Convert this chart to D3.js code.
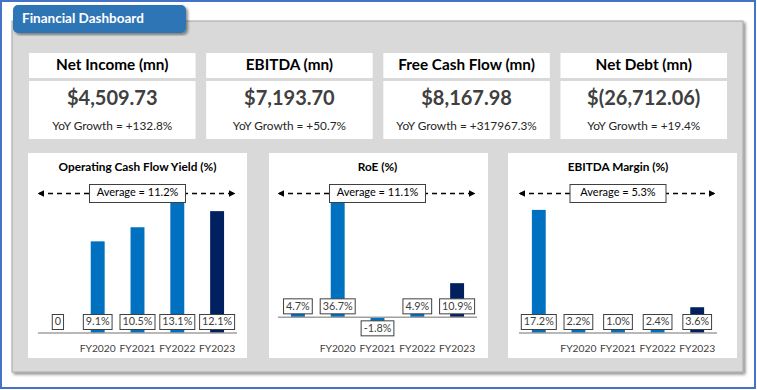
<!DOCTYPE html>
<html lang="en">
<head>
  <meta charset="UTF-8" />
  <title>Financial Dashboard</title>
  <script src="https://d3js.org/d3.v7.min.js"></script>
  <style>
    body { margin: 0; background: #fff; font-family: Lato, 'Open Sans', sans-serif; }
    svg { display: block; }
  </style>
</head>
<body>
  <script>
    // KPI cards
    const kpiTitles = ['Net Income (mn)', 'EBITDA (mn)', 'Free Cash Flow (mn)', 'Net Debt (mn)'];
    const kpiValues = ['$4,509.73', '$7,193.70', '$8,167.98', '$(26,712.06)'];
    const kpiGrowth = ['+132.8%', '+50.7%', '+317967.3%', '+19.4%'];

    // Bar charts
    const categories = ['', 'FY2020', 'FY2021', 'FY2022', 'FY2023'];
    const ocfYield = [0, 9.1, 10.5, 13.1, 12.1];
    const roe = [4.7, 36.7, -1.8, 4.9, 10.9];
    const ebitdaMargin = [17.2, 2.2, 1.0, 2.4, 3.6];
    const chartTitles = ['Operating Cash Flow Yield (%)', 'RoE (%)', 'EBITDA Margin (%)'];
    const averages = [11.2, 11.1, 5.3];

    const W = 757, H = 390;
    const blue = '#0070C0', navy = '#002060', textGray = '#404040';

    const svg = d3.select('body').append('svg')
      .attr('width', W)
      .attr('height', H);

    const defs = svg.append('defs');
    defs.append('filter')
      .attr('id', 'shadow')
      .attr('x', '-5%').attr('y', '-5%').attr('width', '110%').attr('height', '115%')
      .append('feDropShadow')
      .attr('dx', 2).attr('dy', 2).attr('stdDeviation', 1.8)
      .attr('flood-color', '#000').attr('flood-opacity', 0.45);

    defs.append('marker')
      .attr('id', 'arrow')
      .attr('viewBox', '0 0 10 10')
      .attr('refX', 8).attr('refY', 5)
      .attr('markerWidth', 5).attr('markerHeight', 5)
      .attr('orient', 'auto-start-reverse')
      .append('path')
      .attr('d', 'M0,0 L10,5 L0,10 z')
      .attr('fill', '#000');

    // outer frame
    svg.append('rect')
      .attr('x', 1).attr('y', 1)
      .attr('width', W - 3).attr('height', H - 3)
      .attr('fill', '#fff')
      .attr('stroke', '#4472C4')
      .attr('stroke-width', 2);

    // gray background panel
    svg.append('rect')
      .attr('x', 12).attr('y', 21)
      .attr('width', 731).attr('height', 351)
      .attr('fill', '#d9d9d9')
      .attr('stroke', '#a6a6a6')
      .attr('filter', 'url(#shadow)');

    // title tab
    svg.append('rect')
      .attr('x', 13).attr('y', 5)
      .attr('width', 173).attr('height', 28)
      .attr('rx', 5)
      .attr('fill', '#2E75B6')
      .attr('filter', 'url(#shadow)');
    svg.append('text')
      .attr('x', 22).attr('y', 19.5)
      .attr('dominant-baseline', 'middle')
      .attr('fill', '#fff')
      .attr('font-weight', 'bold')
      .attr('font-size', '13.5px')
      .text('Financial Dashboard');

    // ---- KPI cards ----
    const cardX = d3.scaleBand()
      .domain(kpiTitles)
      .range([29, 727])
      .paddingInner(0.06);

    const cards = svg.append('g')
      .selectAll('g')
      .data(kpiTitles.map((t, i) => ({ title: t, value: kpiValues[i], growth: kpiGrowth[i] })))
      .enter().append('g')
      .attr('transform', d => `translate(${cardX(d.title)},0)`);

    cards.append('rect')
      .attr('y', 53).attr('width', cardX.bandwidth()).attr('height', 25)
      .attr('fill', '#fff');
    cards.append('rect')
      .attr('y', 81).attr('width', cardX.bandwidth()).attr('height', 58)
      .attr('fill', '#fff');

    cards.append('text')
      .attr('x', cardX.bandwidth() / 2).attr('y', 66)
      .attr('text-anchor', 'middle').attr('dominant-baseline', 'middle')
      .attr('font-weight', 'bold').attr('font-size', '15.3px')
      .attr('fill', '#000')
      .text(d => d.title);
    cards.append('text')
      .attr('x', cardX.bandwidth() / 2).attr('y', 100)
      .attr('text-anchor', 'middle').attr('dominant-baseline', 'middle')
      .attr('font-weight', 'bold').attr('font-size', '20px')
      .attr('fill', textGray)
      .text(d => d.value);
    cards.append('text')
      .attr('x', cardX.bandwidth() / 2).attr('y', 127)
      .attr('text-anchor', 'middle').attr('dominant-baseline', 'middle')
      .attr('font-size', '11.8px')
      .attr('fill', '#262626')
      .text(d => 'YoY Growth = ' + d.growth);

    // ---- bar charts ----
    const fmt = v => v === 0 ? '0' : v.toFixed(1) + '%';

    const charts = [
      { values: ocfYield, domain: [0, 14], panel: [28, 247], axis: [38, 237] },
      { values: roe, domain: [-5, 40], panel: [269, 488], axis: [278, 477] },
      { values: ebitdaMargin, domain: [0, 19.7], panel: [508, 737], axis: [519, 717] }
    ];

    charts.forEach((c, ci) => {
      const g = svg.append('g');
      const [ax0, ax1] = c.axis;
      const cx = (ax0 + ax1) / 2;

      g.append('rect')
        .attr('x', c.panel[0]).attr('y', 153)
        .attr('width', c.panel[1] - c.panel[0]).attr('height', 205)
        .attr('fill', '#fff');

      g.append('text')
        .attr('x', cx).attr('y', 168)
        .attr('text-anchor', 'middle').attr('dominant-baseline', 'middle')
        .attr('font-weight', 'bold').attr('font-size', '11.8px')
        .attr('fill', '#000')
        .text(chartTitles[ci]);

      const x = d3.scaleBand()
        .domain(categories)
        .range([ax0, ax1])
        .paddingInner(0.65)
        .paddingOuter(0.325);

      const y = d3.scaleLinear()
        .domain(c.domain)
        .range([333, 192]);

      const data = categories.map((cat, i) => ({ cat, v: c.values[i], last: i === categories.length - 1 }));

      g.append('g')
        .selectAll('rect')
        .data(data)
        .enter().append('rect')
        .attr('x', d => x(d.cat))
        .attr('width', x.bandwidth())
        .attr('y', d => y(Math.max(d.v, 0)))
        .attr('height', d => Math.abs(y(d.v) - y(0)))
        .attr('fill', d => d.last ? navy : blue);

      g.append('line')
        .attr('x1', ax0).attr('x2', ax1)
        .attr('y1', y(0)).attr('y2', y(0))
        .attr('stroke', '#a0a0a0')
        .attr('stroke-width', 1.5);

      const xAxis = g.append('g')
        .attr('transform', 'translate(0,333)')
        .call(d3.axisBottom(x).tickSize(0).tickPadding(12));
      xAxis.select('.domain').remove();
      xAxis.selectAll('text')
        .attr('font-family', 'Lato, sans-serif')
        .attr('font-size', '10.3px')
        .attr('fill', textGray);

      // data labels in boxes
      const labels = g.append('g')
        .selectAll('g')
        .data(data)
        .enter().append('g');
      labels.each(function(d) {
        const sel = d3.select(this);
        const top = d.v >= 0 ? y(0) - 3.5 - 15 : y(0) + 3.5;
        const rect = sel.append('rect');
        sel.append('text')
          .attr('x', x(d.cat) + x.bandwidth() / 2)
          .attr('y', top + 8)
          .attr('text-anchor', 'middle').attr('dominant-baseline', 'middle')
          .attr('font-size', '10.8px')
          .attr('fill', textGray)
          .text(fmt(d.v));
        const w = this.querySelector('text').getComputedTextLength() + 5;
        rect.attr('x', x(d.cat) + x.bandwidth() / 2 - w / 2)
          .attr('y', top)
          .attr('width', w).attr('height', 15)
          .attr('fill', '#fff')
          .attr('stroke', textGray)
          .attr('stroke-width', 1);
      });

      // average line with arrows
      const avgY = 193.5;
      g.append('line')
        .attr('x1', ax0 + 1).attr('x2', ax1 - 3)
        .attr('y1', avgY).attr('y2', avgY)
        .attr('stroke', '#000')
        .attr('stroke-width', 1.3)
        .attr('stroke-dasharray', '5,4')
        .attr('marker-start', 'url(#arrow)')
        .attr('marker-end', 'url(#arrow)');
      g.append('rect')
        .attr('x', cx - 48).attr('y', avgY - 9)
        .attr('width', 96).attr('height', 18)
        .attr('fill', '#fff')
        .attr('stroke', textGray);
      g.append('text')
        .attr('x', cx).attr('y', avgY)
        .attr('text-anchor', 'middle').attr('dominant-baseline', 'middle')
        .attr('font-size', '11px')
        .attr('fill', '#000')
        .text('Average = ' + averages[ci].toFixed(1) + '%');
    });
  </script>
</body>
</html>
